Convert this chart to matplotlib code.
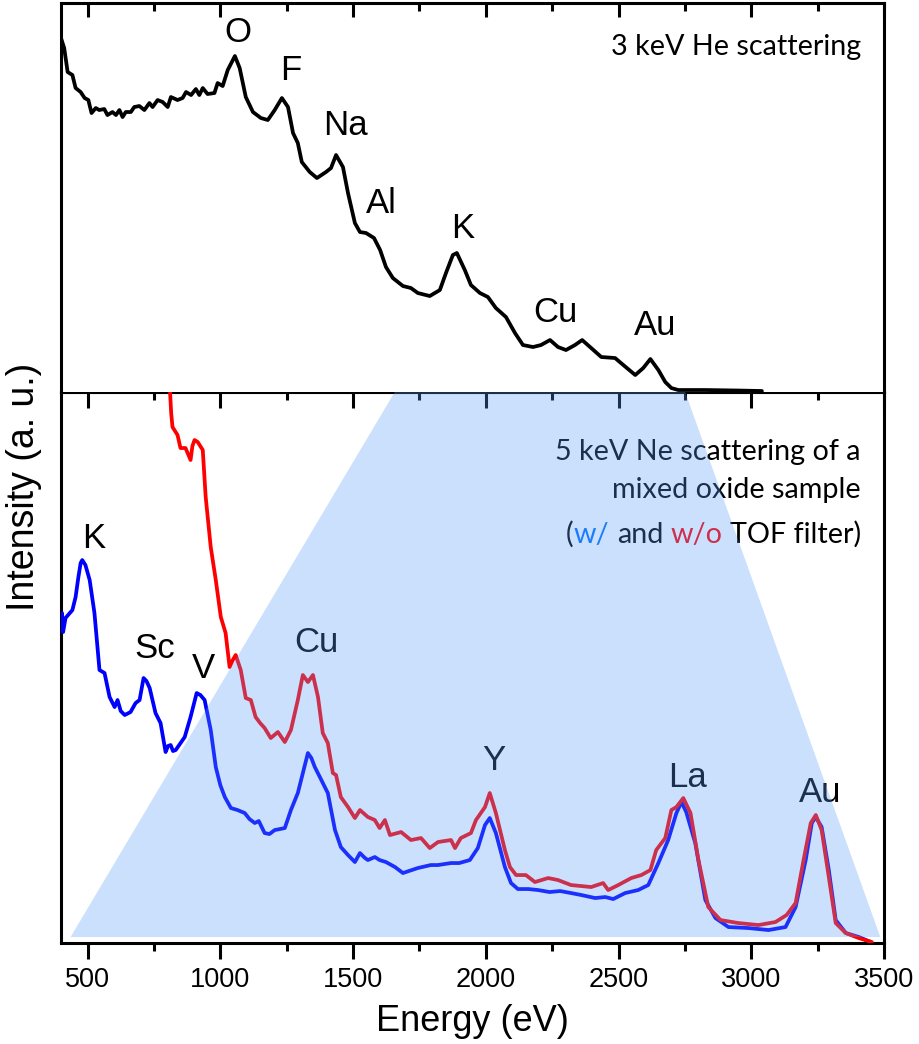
import numpy as np
import matplotlib
matplotlib.use("Agg")
import matplotlib.pyplot as plt
from matplotlib.ticker import MultipleLocator
from matplotlib.font_manager import FontProperties

# ── 3 keV He scattering (top panel, arbitrary units) ─────────────────────────
he_energy = [400, 412, 425, 443, 455, 474, 489, 503, 515, 531,
             544, 563, 575, 594, 607, 620, 632, 644, 663, 676,
             695, 714, 733, 745, 764, 783, 802, 814, 839, 858,
             871, 890, 908, 921, 934, 952, 978, 990, 1009, 1028,
             1055, 1073, 1096, 1123, 1153, 1179, 1205, 1232, 1255, 1274,
             1292, 1307, 1337, 1364, 1398, 1417, 1436, 1462, 1481, 1507,
             1526, 1549, 1579, 1602, 1624, 1650, 1688, 1718, 1744, 1789,
             1827, 1850, 1876, 1891, 1921, 1944, 1978, 2008, 2038, 2076,
             2110, 2140, 2178, 2208, 2242, 2272, 2302, 2336, 2363, 2397,
             2435, 2487, 2518, 2563, 2593, 2620, 2650, 2676, 2699, 2725,
             2827, 2950, 3040]
he_int = [354, 344, 320, 317, 304, 300, 294, 292, 279, 284,
          282, 283, 277, 280, 277, 282, 275, 280, 280, 285,
          286, 282, 289, 285, 292, 290, 285, 295, 292, 294,
          300, 297, 303, 297, 304, 298, 299, 309, 306, 322,
          336, 324, 295, 280, 274, 272, 282, 294, 285, 259,
          249, 230, 220, 214, 220, 224, 237, 225, 199, 169,
          160, 159, 154, 142, 125, 114, 106, 104, 99, 96,
          102, 119, 137, 139, 122, 107, 99, 95, 84, 75,
          59, 47, 45, 47, 52, 45, 42, 47, 52, 44,
          35, 34, 27, 17, 24, 33, 22, 10, 4, 2,
          2, 1.5, 1]

# ── 5 keV Ne scattering, with TOF filter (blue) ─────────────────────────────
ne_tof_energy = [404, 408, 417, 443, 455, 465, 474, 480, 492, 508,
                 526, 545, 564, 583, 602, 613, 625, 640, 662, 681,
                 696, 711, 722, 734, 756, 775, 794, 803, 813, 822,
                 832, 866, 888, 911, 925, 941, 964, 983, 1000, 1017,
                 1040, 1065, 1092, 1110, 1130, 1145, 1167, 1185, 1205, 1225,
                 1243, 1266, 1292, 1311, 1330, 1343, 1356, 1375, 1405, 1432,
                 1454, 1481, 1507, 1526, 1545, 1556, 1582, 1600, 1624, 1658,
                 1688, 1710, 1744, 1793, 1820, 1869, 1900, 1940, 1970, 1997,
                 2015, 2038, 2072, 2095, 2121, 2160, 2197, 2240, 2280, 2321,
                 2360, 2412, 2450, 2480, 2525, 2574, 2612, 2650, 2687, 2718,
                 2737, 2755, 2789, 2827, 2865, 2914, 2989, 3065, 3129, 3167,
                 3205, 3228, 3243, 3265, 3292, 3318, 3356, 3405, 3450]
ne_tof_int = [330, 311, 325, 333, 346, 365, 380, 383, 378, 363,
              330, 273, 270, 246, 236, 243, 232, 228, 231, 240,
              243, 265, 262, 255, 230, 220, 191, 197, 198, 192,
              193, 206, 226, 250, 248, 243, 213, 176, 158, 146,
              135, 133, 130, 124, 120, 122, 110, 109, 113, 114,
              115, 133, 150, 170, 190, 185, 176, 166, 150, 113,
              96, 88, 81, 90, 85, 83, 86, 83, 81, 76,
              70, 72, 75, 78, 78, 80, 80, 83, 95, 118,
              125, 110, 76, 60, 54, 54, 53, 51, 52, 50,
              48, 45, 46, 44, 50, 53, 58, 80, 103, 130,
              141, 131, 100, 43, 25, 16, 15, 13, 16, 36,
              83, 120, 126, 116, 73, 23, 10, 6, 1]

# ── 5 keV Ne scattering, without TOF filter (red) ───────────────────────────
ne_raw_energy = [809, 815, 820, 839, 850, 869, 888, 895, 903, 915,
                 934, 945, 964, 983, 1002, 1020, 1035, 1047, 1058, 1077,
                 1096, 1115, 1133, 1150, 1167, 1190, 1217, 1243, 1266, 1292,
                 1311, 1330, 1349, 1368, 1386, 1405, 1424, 1436, 1454, 1481,
                 1507, 1526, 1556, 1582, 1600, 1620, 1639, 1681, 1718, 1756,
                 1789, 1820, 1869, 1884, 1906, 1944, 1963, 1997, 2015, 2038,
                 2072, 2091, 2114, 2151, 2185, 2235, 2272, 2321, 2397, 2442,
                 2461, 2499, 2548, 2586, 2620, 2642, 2676, 2699, 2718, 2744,
                 2771, 2801, 2838, 2884, 2951, 3027, 3091, 3133, 3167, 3197,
                 3224, 3243, 3265, 3292, 3318, 3356, 3405, 3454]
ne_raw_int = [560, 530, 516, 508, 495, 495, 483, 497, 503, 501,
              493, 446, 396, 363, 326, 310, 276, 283, 288, 273,
              245, 243, 226, 220, 215, 205, 211, 201, 213, 243,
              268, 261, 268, 246, 210, 200, 170, 168, 146, 136,
              125, 133, 126, 123, 115, 123, 108, 111, 103, 105,
              95, 101, 103, 95, 105, 110, 123, 136, 150, 130,
              93, 76, 68, 68, 61, 65, 63, 58, 56, 60,
              53, 58, 65, 68, 73, 93, 105, 133, 136, 145,
              130, 83, 36, 23, 20, 18, 21, 28, 40, 83,
              120, 128, 113, 66, 20, 10, 5, 1]

# highlighted energy window (shaded trapezoid in the lower panel)
shade_energy = [436, 1657, 2751, 3486]
shade_level = [6, 551, 551, 6]

he_labels = ["O", "F", "Na", "Al", "K", "Cu", "Au"]
he_label_x = [1066, 1265, 1473, 1608, 1914, 2261, 2638]
he_label_y = [350, 312, 257, 179, 154, 70, 57]

ne_labels = ["K", "Sc", "V", "Cu", "Y", "La", "Au"]
ne_label_x = [524, 753, 937, 1363, 2031, 2758, 3260]
ne_label_y = [395, 285, 265, 291, 173, 156, 141]

SANS = "Liberation Sans"
NOTE = "Lato"
NOTE_SIZE = 20.7
LW_AX = 2.2
LW_LINE = 2.7

fig = plt.figure(figsize=(9.2, 10.44), dpi=100)
ax_bot = fig.add_axes([0.0663, 0.0967, 0.8946, 0.5278])
ax_top = fig.add_axes([0.0663, 0.6245, 0.8946, 0.3726])

for ax in (ax_top, ax_bot):
    ax.set_xlim(400, 3500)
    ax.xaxis.set_major_locator(MultipleLocator(500))
    ax.xaxis.set_minor_locator(MultipleLocator(250))
    ax.set_yticks([])
    for s in ax.spines.values():
        s.set_linewidth(LW_AX)

line_kw = dict(lw=LW_LINE, solid_joinstyle="round", solid_capstyle="round")

# top panel
ax_top.set_ylim(0, 389)
ax_top.spines["bottom"].set_visible(False)
ax_top.tick_params(axis="x", which="both", direction="in", top=True,
                   bottom=False, labelbottom=False, width=LW_AX)
ax_top.tick_params(axis="x", which="major", length=10)
ax_top.tick_params(axis="x", which="minor", length=6)
ax_top.plot(he_energy, he_int, color="black", **line_kw)
for lab, x, y in zip(he_labels, he_label_x, he_label_y):
    ax_top.text(x, y, lab, ha="center", va="baseline", fontsize=25,
                family=SANS)
ax_top.text(0.972, 0.866, "3 keV He scattering", transform=ax_top.transAxes,
            ha="right", va="baseline", fontsize=NOTE_SIZE, family=NOTE)

# bottom panel
ax_bot.set_ylim(0, 551)
ax_bot.tick_params(axis="x", which="both", direction="out", width=LW_AX,
                   labelsize=19.5, pad=6)
ax_bot.tick_params(axis="x", which="major", length=11.5)
ax_bot.tick_params(axis="x", which="minor", length=6)
for t in ax_bot.get_xticklabels():
    t.set_family(SANS)
sec = ax_bot.secondary_xaxis("top")
sec.xaxis.set_major_locator(MultipleLocator(500))
sec.xaxis.set_minor_locator(MultipleLocator(250))
sec.tick_params(axis="x", which="both", direction="in", width=LW_AX,
                labeltop=False)
sec.tick_params(axis="x", which="major", length=11.5)
sec.tick_params(axis="x", which="minor", length=6)
sec.spines["top"].set_linewidth(LW_AX)

ax_bot.plot(ne_tof_energy, ne_tof_int, color="#0000ff", zorder=3, **line_kw)
ax_bot.plot(ne_raw_energy, ne_raw_int, color="#ff0000", zorder=4, **line_kw)
for lab, x, y in zip(ne_labels, ne_label_x, ne_label_y):
    ax_bot.text(x, y, lab, ha="center", va="baseline", fontsize=25,
                family=SANS, zorder=5)

ax_bot.text(0.972, 0.877, "5 keV Ne scattering of a", transform=ax_bot.transAxes,
            ha="right", va="baseline", fontsize=NOTE_SIZE, family=NOTE, zorder=5)
ax_bot.text(0.972, 0.808, "mixed oxide sample", transform=ax_bot.transAxes,
            ha="right", va="baseline", fontsize=NOTE_SIZE, family=NOTE, zorder=5)

# multi-coloured third line, laid out piece by piece
renderer = fig.canvas.get_renderer()
prop = FontProperties(family=NOTE, size=NOTE_SIZE)
def width(s):
    return renderer.get_text_width_height_descent(s, prop, ismath=False)[0]

full = "(w/ and w/o TOF filter)"
pieces = [("(", "black"), ("w/", "#0070ff"), ("and", "black"),
          ("w/o", "#ff0000"), ("TOF filter)", "black")]
ax_w = ax_bot.get_window_extent().width
x0 = 0.972 - width(full) / ax_w
pos = 0
for piece, col in pieces:
    end = full.index(piece, pos) + len(piece)
    pos = end
    left = x0 + (width(full[:end]) - width(piece)) / ax_w
    ax_bot.text(left, 0.726, piece, transform=ax_bot.transAxes, ha="left",
                va="baseline", fontsize=NOTE_SIZE, family=NOTE, color=col,
                zorder=5)

ax_bot.fill(shade_energy, shade_level, color="#5a9cf6", alpha=0.31, lw=0,
            zorder=10)

ax_bot.set_xlabel("Energy (eV)", fontsize=26, family=SANS, labelpad=8)
fig.text(0.026, 0.5335, "Intensity (a. u.)", rotation=90, ha="center",
         va="center", fontsize=27, family=SANS)

fig.savefig("out.png", dpi=100)
